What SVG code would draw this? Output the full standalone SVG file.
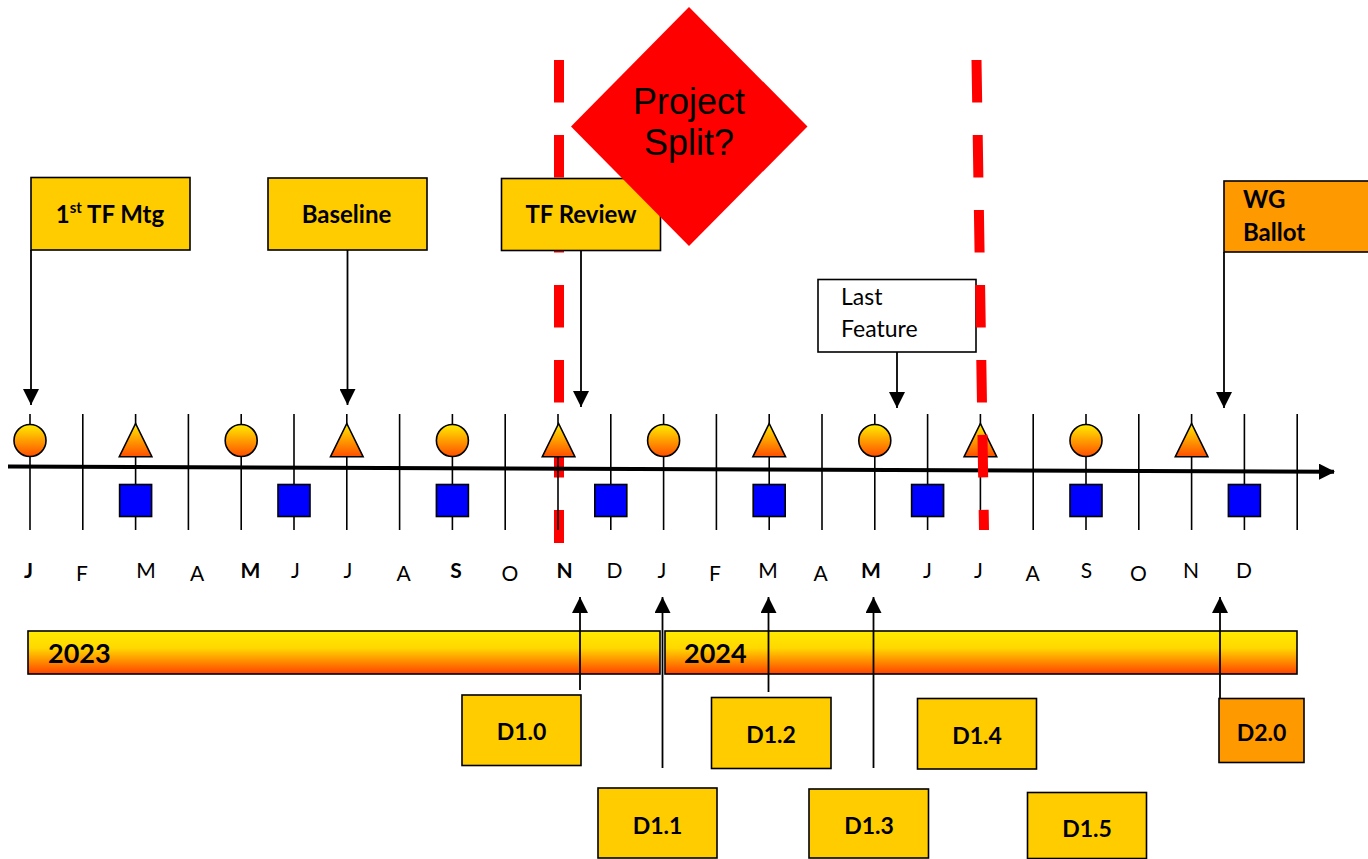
<svg xmlns="http://www.w3.org/2000/svg" width="1368" height="859" viewBox="0 0 1368 859">
<defs>
<linearGradient id="gShape" x1="0" y1="0" x2="0" y2="1"><stop offset="0" stop-color="#FFEC00"/><stop offset="1" stop-color="#FF4E00"/></linearGradient>
<linearGradient id="gBar" x1="0" y1="0" x2="0" y2="1"><stop offset="0" stop-color="#FFEA00"/><stop offset="0.4" stop-color="#FFD800"/><stop offset="1" stop-color="#FF4200"/></linearGradient>
<marker id="arr" markerUnits="userSpaceOnUse" markerWidth="16" markerHeight="16" viewBox="0 0 16 16" refX="16" refY="8" orient="auto"><path d="M0,0 L16,8 L0,16 z" fill="#000"/></marker>
<marker id="axarr" markerUnits="userSpaceOnUse" markerWidth="16" markerHeight="16" viewBox="0 0 16 16" refX="15" refY="8" orient="auto"><path d="M0,0 L16,8 L0,16 z" fill="#000"/></marker>
</defs>
<style>
.box{fill:#FFCC00;stroke:#000;stroke-width:1.6}
.obox{fill:#FF9900;stroke:#000;stroke-width:1.6}
.wbox{fill:#fff;stroke:#000;stroke-width:1.6}
.bt{font-family:Lato,"Open Sans",sans-serif;font-weight:bold;font-size:24px;fill:#000;text-anchor:middle}
.dt{font-size:23px}
.lt{font-family:Lato,"Open Sans",sans-serif;font-size:23px;fill:#000}
.mo{font-family:Lato,"Open Sans",sans-serif;font-size:21px;fill:#000;text-anchor:middle}
.mob{font-weight:bold}
.tick{stroke:#000;stroke-width:1.6}
.circ,.tri{fill:url(#gShape);stroke:#000;stroke-width:1.6}
.sq{fill:#0000FF;stroke:#000;stroke-width:1.6}
.bar{fill:url(#gBar);stroke:#000;stroke-width:1.6}
.yr{font-family:Lato,"Open Sans",sans-serif;font-weight:bold;font-size:27px;fill:#000}
.red{stroke:#FF0000;stroke-width:10;stroke-dasharray:42.5 32.5;fill:none}
.con{stroke:#000;stroke-width:1.8;fill:none;marker-end:url(#arr)}
</style>

<g id="split-line-1"><line class="red" x1="559" y1="60" x2="559" y2="543"/></g>

<g id="ticks">
<line class="tick" x1="30" y1="414" x2="30" y2="530"/>
<line class="tick" x1="82.8" y1="414" x2="82.8" y2="530"/>
<line class="tick" x1="135.6" y1="414" x2="135.6" y2="530"/>
<line class="tick" x1="188.4" y1="414" x2="188.4" y2="530"/>
<line class="tick" x1="241.2" y1="414" x2="241.2" y2="530"/>
<line class="tick" x1="294" y1="414" x2="294" y2="530"/>
<line class="tick" x1="346.8" y1="414" x2="346.8" y2="530"/>
<line class="tick" x1="399.6" y1="414" x2="399.6" y2="530"/>
<line class="tick" x1="452.4" y1="414" x2="452.4" y2="530"/>
<line class="tick" x1="505.2" y1="414" x2="505.2" y2="530"/>
<line class="tick" x1="558" y1="414" x2="558" y2="530"/>
<line class="tick" x1="610.8" y1="414" x2="610.8" y2="530"/>
<line class="tick" x1="663.6" y1="414" x2="663.6" y2="530"/>
<line class="tick" x1="716.4" y1="414" x2="716.4" y2="530"/>
<line class="tick" x1="769.2" y1="414" x2="769.2" y2="530"/>
<line class="tick" x1="822" y1="414" x2="822" y2="530"/>
<line class="tick" x1="874.8" y1="414" x2="874.8" y2="530"/>
<line class="tick" x1="927.6" y1="414" x2="927.6" y2="530"/>
<line class="tick" x1="980.4" y1="414" x2="980.4" y2="530"/>
<line class="tick" x1="1033.2" y1="414" x2="1033.2" y2="530"/>
<line class="tick" x1="1086" y1="414" x2="1086" y2="530"/>
<line class="tick" x1="1138.8" y1="414" x2="1138.8" y2="530"/>
<line class="tick" x1="1191.6" y1="414" x2="1191.6" y2="530"/>
<line class="tick" x1="1244.4" y1="414" x2="1244.4" y2="530"/>
<line class="tick" x1="1297.2" y1="414" x2="1297.2" y2="530"/>
</g>

<g id="axis"><line x1="8" y1="466.5" x2="1334" y2="471.7" stroke="#000" stroke-width="4" marker-end="url(#axarr)"/></g>

<g id="markers">
<circle class="circ" cx="30" cy="440.5" r="16"/>
<circle class="circ" cx="241.2" cy="440.5" r="16"/>
<circle class="circ" cx="452.4" cy="440.5" r="16"/>
<circle class="circ" cx="663.6" cy="440.5" r="16"/>
<circle class="circ" cx="874.8" cy="440.5" r="16"/>
<circle class="circ" cx="1086" cy="440.5" r="16"/>
<polygon class="tri" points="135.6,423.5 151.9,456.7 119.3,456.7"/>
<polygon class="tri" points="346.8,423.5 363.1,456.7 330.5,456.7"/>
<polygon class="tri" points="558.6,423.5 574.9,456.7 542.3,456.7"/>
<polygon class="tri" points="769.2,423.5 785.5,456.7 752.9,456.7"/>
<polygon class="tri" points="980.4,423.5 996.7,456.7 964.1,456.7"/>
<polygon class="tri" points="1191.6,423.5 1207.9,456.7 1175.3,456.7"/>
<rect class="sq" x="119.6" y="484.5" width="32" height="32"/>
<rect class="sq" x="278" y="484.5" width="32" height="32"/>
<rect class="sq" x="436.4" y="484.5" width="32" height="32"/>
<rect class="sq" x="594.8" y="484.5" width="32" height="32"/>
<rect class="sq" x="753.2" y="484.5" width="32" height="32"/>
<rect class="sq" x="911.6" y="484.5" width="32" height="32"/>
<rect class="sq" x="1070" y="484.5" width="32" height="32"/>
<rect class="sq" x="1228.4" y="484.5" width="32" height="32"/>
</g>

<g id="node-1st-tf-mtg"><rect class="box" x="31" y="177.5" width="159" height="72.5"/><text class="bt" x="110" y="223">1<tspan font-size="15" dy="-10">st</tspan><tspan dy="10"> TF Mtg</tspan></text></g>
<g id="node-baseline"><rect class="box" x="268" y="178" width="159" height="72"/><text class="bt" x="346.5" y="223">Baseline</text></g>
<g id="node-tf-review"><rect class="box" x="501.5" y="178.5" width="159" height="72"/><text class="bt" x="581" y="222.5">TF Review</text></g>
<g id="node-project-split"><polygon points="689,7 807.5,126.5 689,246 571,126.5" fill="#FF0000"/><text x="689" y="114" font-family="'Liberation Sans',Arial,sans-serif" font-size="36" text-anchor="middle" fill="#000">Project</text><text x="689" y="155" font-family="'Liberation Sans',Arial,sans-serif" font-size="36" text-anchor="middle" fill="#000">Split?</text></g>
<g id="node-last-feature"><rect class="wbox" x="818" y="279.5" width="158" height="72.5"/><text class="lt" x="841" y="305">Last</text><text class="lt" x="841" y="336.5">Feature</text></g>
<g id="node-wg-ballot"><rect class="obox" x="1224" y="181" width="150" height="71"/><text class="bt" x="1243" y="208" style="text-anchor:start">WG</text><text class="bt" x="1243" y="241" style="text-anchor:start">Ballot</text></g>

<g id="split-line-2"><line class="red" x1="976.5" y1="60" x2="984" y2="530"/></g>

<g id="months">
<text class="mo mob" x="28.5" y="578">J</text>
<text class="mo" x="82" y="581">F</text>
<text class="mo" x="146" y="578">M</text>
<text class="mo" x="197" y="581">A</text>
<text class="mo mob" x="250.5" y="578">M</text>
<text class="mo" x="295.5" y="578">J</text>
<text class="mo" x="348" y="578">J</text>
<text class="mo" x="403.5" y="581">A</text>
<text class="mo mob" x="456" y="578">S</text>
<text class="mo" x="510" y="581">O</text>
<text class="mo mob" x="564.5" y="578">N</text>
<text class="mo" x="614.5" y="578">D</text>
<text class="mo" x="662" y="578">J</text>
<text class="mo" x="715" y="581">F</text>
<text class="mo" x="768" y="578">M</text>
<text class="mo" x="820.5" y="581">A</text>
<text class="mo mob" x="871" y="578">M</text>
<text class="mo" x="927.5" y="578">J</text>
<text class="mo" x="978.5" y="578">J</text>
<text class="mo" x="1032.5" y="581">A</text>
<text class="mo" x="1086.5" y="578">S</text>
<text class="mo" x="1138.5" y="581">O</text>
<text class="mo" x="1191" y="578">N</text>
<text class="mo" x="1244" y="578">D</text>
</g>

<g id="node-2023"><rect class="bar" x="28" y="631" width="632" height="43"/><text class="yr" x="48" y="663">2023</text></g>
<g id="node-2024"><rect class="bar" x="665" y="631" width="632" height="43"/><text class="yr" x="684" y="663">2024</text></g>

<g id="node-d10"><rect class="box" x="462" y="695" width="119" height="70.5"/><text class="bt dt" x="521.5" y="739.5">D1.0</text></g>
<g id="node-d11"><rect class="box" x="598" y="788" width="119" height="70"/><text class="bt dt" x="657.5" y="833.5">D1.1</text></g>
<g id="node-d12"><rect class="box" x="711.5" y="697.5" width="119.5" height="71"/><text class="bt dt" x="771" y="742.5">D1.2</text></g>
<g id="node-d13"><rect class="box" x="809" y="789" width="119.5" height="69"/><text class="bt dt" x="869" y="833.5">D1.3</text></g>
<g id="node-d14"><rect class="box" x="917.5" y="698.5" width="119" height="70.5"/><text class="bt dt" x="977" y="743.5">D1.4</text></g>
<g id="node-d15"><rect class="box" x="1027.5" y="792.5" width="119" height="66"/><text class="bt dt" x="1087" y="837">D1.5</text></g>
<g id="node-d20"><rect class="obox" x="1219" y="698.5" width="85" height="64"/><text class="bt dt" x="1261.5" y="741">D2.0</text></g>

<g id="connectors">
<line class="con" x1="31" y1="250" x2="31" y2="405"/>
<line class="con" x1="347.5" y1="250" x2="347.5" y2="405"/>
<line class="con" x1="581" y1="250.5" x2="581" y2="407"/>
<line class="con" x1="897" y1="352" x2="897" y2="408"/>
<line class="con" x1="1224" y1="252" x2="1224" y2="408"/>
<line class="con" x1="580" y1="690" x2="580" y2="597"/>
<line class="con" x1="662.5" y1="768" x2="662.5" y2="597"/>
<line class="con" x1="768.5" y1="692" x2="768.5" y2="597"/>
<line class="con" x1="873.5" y1="768" x2="873.5" y2="597"/>
<line class="con" x1="1220" y1="698.5" x2="1220" y2="597"/>
</g>
</svg>
